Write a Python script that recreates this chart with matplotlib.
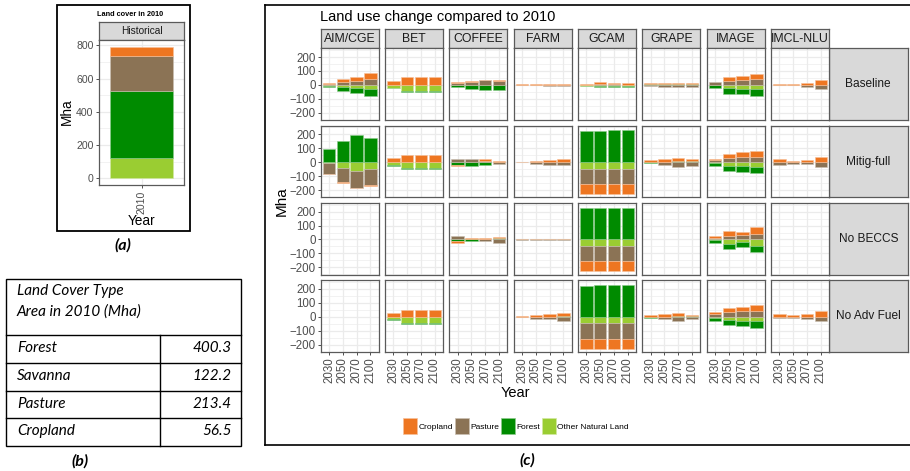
import matplotlib
matplotlib.use('Agg')
import numpy as np
import matplotlib.pyplot as plt
from matplotlib.patches import Rectangle, Patch
from matplotlib.lines import Line2D
from matplotlib.colors import to_rgb

plt.rcParams['font.family'] = ['Liberation Sans', 'DejaVu Sans']

# ---------------- data ----------------
categories = ['Cropland', 'Pasture', 'Forest', 'Other Natural Land']
cat_colors = {'Cropland': '#EE7621', 'Pasture': '#8B7355',
              'Forest': '#008B00', 'Other Natural Land': '#9ACD32'}

hist_types = ['Forest', 'Savanna', 'Pasture', 'Cropland']
hist_area = [400.3, 122.2, 213.4, 56.5]

models = ['AIM/CGE', 'BET', 'COFFEE', 'FARM', 'GCAM', 'GRAPE', 'IMAGE', 'IMCL-NLU']
scenarios = ['Baseline', 'Mitig-full', 'No BECCS', 'No Adv Fuel']
years = ['2030', '2050', '2070', '2100']

cropland = {
    'Baseline':    [[8, 16, 33, 43], [26, 53, 53, 53], [2, 3, 2, 7], [3, 5, 5, 8],
                    [8, 15, 12, 10], [7, 10, 10, 9], [0, 29, 33, 36], [3, 3, 14, 35]],
    'Mitig-full':  [[-3, -5, -7, -6], [28, 53, 53, 53], [-7, 0, 8, 8], [2, 12, 19, 22],
                    [-71, -71, -73, -76], [14, 22, 25, 17], [8, 29, 33, 43], [24, 12, 16, 38]],
    'No BECCS':    [None, None, [-8, 12, 12, 10], [3, 4, 5, 2],
                    [-70, -70, -71, -72], None, [9, 33, 21, 52], None],
    'No Adv Fuel': [None, [27, 52, 52, 52], None, [4, 14, 21, 24],
                    [-72, -72, -72, -73], [12, 20, 18, 10], [12, 31, 31, 40], [17, 10, 21, 40]],
}
pasture = {
    'Baseline':    [[7, 24, 27, 40], [0, 0, 0, 0], [16, 24, 32, 26], [-2, -3, -6, -10],
                    [0, 3, 3, 0], [-10, -16, -16, -16], [20, 31, 33, 40], [-2, -2, -12, -31]],
    'Mitig-full':  [[-78, -100, -122, -112], [0, 0, 0, 0], [24, 22, 12, -12], [-2, -14, -17, -22],
                    [-107, -107, -107, -107], [0, -22, -33, -24], [17, 33, 38, 40], [-21, -10, -14, -33]],
    'No BECCS':    [None, None, [22, 0, -14, -22], [-2, -2, -2, -3],
                    [-110, -110, -110, -110], None, [14, 28, 33, 38], None],
    'No Adv Fuel': [None, [0, 0, 0, 0], None, [-3, -14, -19, -28],
                    [-110, -110, -110, -110], [0, -18, -30, -18], [19, 33, 38, 43], [-12, -7, -14, -33]],
}
forest = {
    'Baseline':    [[-10, -25, -37, -50], [-3, -5, -5, -5], [-17, -25, -33, -34], [0, 0, 0, 0],
                    [-4, -10, -8, -8], [4, 6, 6, 6], [-22, -38, -40, -45], [0, 0, 0, 0]],
    'Mitig-full':  [[95, 153, 195, 173], [-6, -6, -6, -6], [-17, -24, -20, 4], [0, 0, 0, 4],
                    [224, 226, 228, 231], [-9, 0, 5, 6], [-20, -38, -40, -45], [0, 0, 0, 0]],
    'No BECCS':    [None, None, [-14, -12, 0, 10], [0, 0, 0, 0],
                    [224, 226, 227, 229], None, [-17, -36, -36, -45], None],
    'No Adv Fuel': [None, [-5, -6, -6, -6], None, [0, 0, 0, 3],
                    [224, 225, 227, 229], [-12, 0, 6, 6], [-19, -36, -38, -45], [0, 0, 0, 0]],
}
other_natural = {
    'Baseline':    [[-6, -16, -22, -30], [-20, -45, -45, -45], [0, -3, -2, 0], [0, 0, 0, 0],
                    [-5, -5, -7, -5], [0, 0, 0, 0], [-3, -24, -29, -33], [0, 0, 0, 0]],
    'Mitig-full':  [[-6, -43, -60, -52], [-19, -43, -43, -43], [0, 0, 0, 0], [0, 0, 0, 0],
                    [-48, -48, -48, -48], [0, 0, 0, 0], [-4, -24, -31, -36], [0, 0, 0, 0]],
    'No BECCS':    [None, None, [0, 0, 0, 0], [0, 0, 0, 0],
                    [-46, -46, -46, -46], None, [-6, -31, -19, -45], None],
    'No Adv Fuel': [None, [-15, -45, -45, -45], None, [0, 0, 0, 0],
                    [-47, -47, -47, -47], [0, 0, 0, 0], [-10, -26, -31, -33], [0, 0, 0, 0]],
}

table_header = ['Land Cover Type', 'Area in 2010 (Mha)']

# ---------------- layout helpers ----------------
W, H = 910, 471
fig = plt.figure(figsize=(W / 100, H / 100), dpi=100)
fig.patch.set_facecolor('white')


def fx(x):
    return x / W


def fy(y):
    return 1 - y / H


def add_ax(x0, y0, x1, y1):
    return fig.add_axes([x0 / W, 1 - y1 / H, (x1 - x0) / W, (y1 - y0) / H])


BORDER = '#5a5a5a'
STRIP = '#D9D9D9'
GRID = '#EBEBEB'
TICKC = '#4D4D4D'


def tint(c, f=0.55):
    r, g, b = to_rgb(c)
    return (r + (1 - r) * f, g + (1 - g) * f, b + (1 - b) * f)


def style_panel(ax):
    for s in ax.spines.values():
        s.set_color(BORDER)
        s.set_linewidth(0.9)
    ax.set_axisbelow(True)
    ax.grid(which='major', color=GRID, lw=0.9)
    ax.grid(which='minor', color=GRID, lw=0.45)


def strip(x0, y0, x1, y1, label, size):
    a = add_ax(x0, y0, x1, y1)
    a.set_facecolor(STRIP)
    a.set_xticks([])
    a.set_yticks([])
    for s in a.spines.values():
        s.set_color(BORDER)
        s.set_linewidth(0.9)
    a.text(0.5, 0.5, label, ha='center', va='center', fontsize=size,
           color='#1A1A1A', transform=a.transAxes)
    return a


def fig_line(xs, ys, lw=1.2):
    fig.add_artist(Line2D([fx(v) for v in xs], [fy(v) for v in ys],
                          transform=fig.transFigure, color='black', lw=lw))


# ---------------- panel (a) ----------------
fig.add_artist(Rectangle((fx(57), fy(231)), (190 - 57) / W, (231 - 5) / H,
                         fill=False, ec='black', lw=1.3, transform=fig.transFigure))
fig.text(fx(130), fy(14), 'Land cover in 2010', fontsize=5.3, weight='bold',
         ha='center', va='center')
strip(99, 22, 184, 40, 'Historical', 7.3)
axa = add_ax(99, 40, 184, 185)
style_panel(axa)
hist_order = ['Savanna', 'Forest', 'Pasture', 'Cropland']
hist_col = {'Savanna': cat_colors['Other Natural Land'], 'Forest': cat_colors['Forest'],
            'Pasture': cat_colors['Pasture'], 'Cropland': cat_colors['Cropland']}
bottom = 0.0
for t in hist_order:
    v = hist_area[hist_types.index(t)]
    axa.bar([1], [v], bottom=bottom, width=0.9, color=hist_col[t],
            edgecolor=tint(hist_col[t]), lw=0.4)
    bottom += v
axa.set_xlim(0.4, 1.6)
axa.set_ylim(-39.6, 831.6)
axa.set_yticks([0, 200, 400, 600, 800])
axa.set_yticks([100, 300, 500, 700], minor=True)
axa.set_xticks([1])
axa.set_xticklabels(['2010'], rotation=90)
axa.tick_params(which='major', length=2.5, width=0.6, color='#333333',
                labelsize=7.6, labelcolor=TICKC, pad=1.5)
axa.tick_params(which='minor', length=0)
fig.text(fx(67), fy(112), 'Mha', rotation=90, fontsize=9.8, ha='center', va='center')
fig.text(fx(142), fy(221), 'Year', fontsize=9.8, ha='center', va='center')
fig.text(fx(123), fy(245), '(a)', fontsize=11.5, weight='bold', style='italic',
         family=['Lato', 'DejaVu Sans'], ha='center', va='center')

# ---------------- table (b) ----------------
tfont = ['Lato', 'DejaVu Sans']
TS = 11.0
fig.add_artist(Rectangle((fx(6), fy(446)), (241 - 6) / W, (446 - 279) / H,
                         fill=False, ec='black', lw=1.0, transform=fig.transFigure))
for yl in [335, 363, 391, 418]:
    fig_line([6, 241], [yl, yl], lw=1.0)
fig_line([160, 160], [335, 446], lw=1.0)
fig.text(fx(17), fy(291), table_header[0], fontsize=TS, style='italic', family=tfont,
         ha='left', va='center')
fig.text(fx(17), fy(312), table_header[1], fontsize=TS, style='italic', family=tfont,
         ha='left', va='center')
for i, (t, v) in enumerate(zip(hist_types, hist_area)):
    yc = [348, 376, 404, 431][i]
    fig.text(fx(17), fy(yc), t, fontsize=TS, style='italic', family=tfont,
             ha='left', va='center')
    fig.text(fx(232), fy(yc), f'{v:.1f}', fontsize=TS, style='italic', family=tfont,
             ha='right', va='center')
fig.text(fx(80), fy(461), '(b)', fontsize=11.5, weight='bold', style='italic',
         family=tfont, ha='center', va='center')

# ---------------- panel (c) ----------------
fig_line([265, 910], [5, 5])
fig_line([265, 265], [5, 445])
fig_line([265, 910], [445, 445])
fig.text(fx(320), fy(17), 'Land use change compared to 2010', fontsize=10.5,
         ha='left', va='center')

col_left0, col_step, col_w = 320.7, 64.33, 58.0
row_top0, row_step, row_h = 48.4, 77.3, 71.7
stack_order = [('Other Natural Land', other_natural), ('Forest', forest),
               ('Pasture', pasture), ('Cropland', cropland)]
x = np.arange(1, len(years) + 1)

for j, m in enumerate(models):
    x0 = col_left0 + j * col_step
    strip(x0, 29.3, x0 + col_w, row_top0, m, 8.8)
for i, s in enumerate(scenarios):
    y0 = row_top0 + i * row_step
    strip(x0 + col_w, y0, 907.5, y0 + row_h, s, 8.6)
    for j, m in enumerate(models):
        xl = col_left0 + j * col_step
        ax = add_ax(xl, y0, xl + col_w, y0 + row_h)
        style_panel(ax)
        if cropland[s][j] is not None:
            pos = np.zeros(len(years))
            neg = np.zeros(len(years))
            for cat, d in stack_order:
                vals = np.array(d[s][j], dtype=float)
                bot = np.where(vals >= 0, pos, neg)
                mask = vals != 0
                if mask.any():
                    ax.bar(x[mask], vals[mask], bottom=bot[mask], width=0.9,
                           color=cat_colors[cat], edgecolor=tint(cat_colors[cat]), lw=0.4)
                pos = pos + np.where(vals > 0, vals, 0)
                neg = neg + np.where(vals < 0, vals, 0)
        ax.set_xlim(0.4, 4.6)
        ax.set_ylim(-253, 262)
        ax.set_yticks([-200, -100, 0, 100, 200])
        ax.set_yticks([-250, -150, -50, 50, 150, 250], minor=True)
        ax.set_xticks(x)
        ax.set_xticklabels(years, rotation=90)
        ax.tick_params(which='major', length=2.5, width=0.6, color='#333333',
                       labelsize=8.3, labelcolor=TICKC, pad=1.2)
        ax.tick_params(which='minor', length=0)
        if j != 0:
            ax.tick_params(left=False, labelleft=False)
        if i != len(scenarios) - 1:
            ax.tick_params(bottom=False, labelbottom=False)

fig.text(fx(282), fy(201), 'Mha', rotation=90, fontsize=11, ha='center', va='center')
fig.text(fx(515), fy(393), 'Year', fontsize=10.5, ha='center', va='center')

handles = [Patch(facecolor=cat_colors[c], edgecolor=tint(cat_colors[c]), lw=0.5)
           for c in categories]
fig.legend(handles, categories, loc='center', bbox_to_anchor=(fx(516), fy(426)),
           ncol=4, frameon=False, fontsize=6, handlelength=1.7, handleheight=2.4,
           handletextpad=0.15, columnspacing=0.2, borderpad=0)
fig.text(fx(527), fy(460), '(c)', fontsize=11.5, weight='bold', style='italic',
         family=tfont, ha='center', va='center')

fig.savefig('out.png', dpi=100)
